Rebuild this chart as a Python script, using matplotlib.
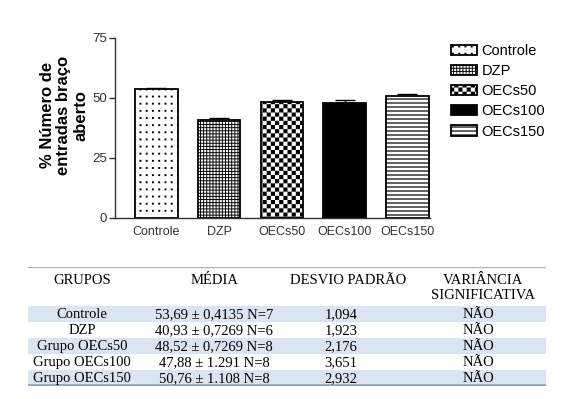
import matplotlib
matplotlib.use('Agg')
import matplotlib.pyplot as plt
import matplotlib.hatch as mhatch
from matplotlib.path import Path
from matplotlib.patches import Rectangle
import numpy as np

# ---------------- data ----------------
groups = ['Controle', 'DZP', 'OECs50', 'OECs100', 'OECs150']
means = [53.69, 40.93, 48.52, 47.88, 50.76]
sems = [0.4135, 0.7269, 0.7269, 1.291, 1.108]
yticks = [0, 25, 50, 75]
ylabel = '% Número de\nentradas braço\naberto'

table_headers = ['GRUPOS', 'MÉDIA', 'DESVIO PADRÃO', 'VARIÂNCIA\nSIGNIFICATIVA']
table_groups = ['Controle', 'DZP', 'Grupo OECs50', 'Grupo OECs100', 'Grupo OECs150']
table_media = ['53,69 ± 0,4135 N=7', '40,93 ± 0,7269 N=6', '48,52 ± 0,7269 N=8',
               '47,88 ± 1.291 N=8', '50,76 ± 1.108 N=8']
table_sd = ['1,094', '1,923', '2,176', '3,651', '2,932']
table_var = ['NÃO', 'NÃO', 'NÃO', 'NÃO', 'NÃO']

# ---------------- custom fill patterns (filled rectangles in unit hatch cell) ----------------
class RectPattern(mhatch.HatchPatternBase):
    char = ''
    def __init__(self, hatch, density):
        self.rects = self.make() if (self.char and self.char in hatch) else []
        self.num_vertices = 5 * len(self.rects)
    def make(self):
        return []
    def set_vertices_and_codes(self, vertices, codes):
        for i, (x, y, w, h) in enumerate(self.rects):
            vertices[5*i:5*i+5] = [(x, y), (x+w, y), (x+w, y+h), (x, y+h), (x, y)]
            codes[5*i] = Path.MOVETO
            codes[5*i+1:5*i+4] = Path.LINETO
            codes[5*i+4] = Path.CLOSEPOLY

class Stripes(RectPattern):
    char = '-'
    def make(self):
        n = 25
        return [(0, j/n + 0.004, 1, 0.012) for j in range(n)]

class SparseDots(RectPattern):
    char = '.'
    def make(self):
        nx, ny = 16, 14
        return [(i/nx + 0.02, j/ny + 0.025, 0.019, 0.019) for i in range(nx) for j in range(ny)]

class FineGrid(RectPattern):
    char = 'o'
    def make(self):
        n = 32
        s = 1.0 / n
        t = 0.0095
        r = []
        for j in range(n):
            r.append((0, j*s, 1, t))
            for i in range(n):
                r.append((i*s, j*s + t, t, s - t))
        return r

class Checker(RectPattern):
    char = 'O'
    def make(self):
        n = 12
        s = 1.0 / n
        h = s / 2
        r = []
        for i in range(n):
            for j in range(n):
                r.append((i*s, j*s, h, h))
                r.append((i*s + h, j*s + h, h, h))
        return r

mhatch._hatch_types[:] = [Stripes, SparseDots, FineGrid, Checker]

plt.rcParams['hatch.linewidth'] = 0.01
plt.rcParams['font.family'] = ['Liberation Sans', 'DejaVu Sans']

hatches = ['.', 'o', 'O', None, '-']
faces = ['white', 'white', 'white', 'black', 'white']

W, H = 579, 399
fig = plt.figure(figsize=(W/100, H/100), dpi=100)

# ---------------- bar chart ----------------
ax = fig.add_axes([115/W, 1 - 218/H, 315/W, 180/H])
x = np.arange(len(groups))
ax.errorbar(x, means, yerr=[np.zeros(len(sems)), sems], fmt='none', ecolor='black',
            elinewidth=1.0, capsize=7, capthick=1.0, zorder=1)
bars = []
for i in range(len(groups)):
    b = ax.bar(x[i], means[i], width=0.68, color=faces[i], edgecolor='black',
               linewidth=1.3, hatch=hatches[i], label=groups[i], zorder=2)
    bars.append(b[0])

ax.set_xlim(-0.66, 4.36)
ax.set_ylim(0, 75)
ax.set_yticks(yticks)
ax.set_yticklabels([str(v) for v in yticks], fontsize=9.5, color='#333333')
ax.set_xticks(x)
ax.set_xticklabels(groups, fontsize=9, color='#333333')
ax.tick_params(axis='x', length=0, pad=6)
ax.tick_params(axis='y', direction='out', length=4, width=1, color='#333333', pad=2)
for s in ['top', 'right']:
    ax.spines[s].set_visible(False)
for s in ['left', 'bottom']:
    ax.spines[s].set_color('#333333')
    ax.spines[s].set_linewidth(1.0)
ax.set_ylabel(ylabel, fontsize=12, fontweight='bold', linespacing=1.15, color='black')
ax.yaxis.label.set_multialignment('center')
ax.yaxis.set_label_coords(-0.085, 0.57)

fig.legend(handles=bars, labels=groups, loc='upper left',
           bbox_to_anchor=(451/W, 1 - 44/H), frameon=False, fontsize=10.5,
           handlelength=1.75, handleheight=0.7, labelspacing=0.42,
           handletextpad=0.35, borderpad=0, borderaxespad=0)

# ---------------- table ----------------
tx0, tx1, ty0, ty1 = 28, 546, 267, 386
tax = fig.add_axes([tx0/W, 1 - ty1/H, (tx1 - tx0)/W, (ty1 - ty0)/H])
hdr = 2.4
nrows = len(table_groups)
tax.set_xlim(tx0, tx1)
tax.set_ylim(hdr + nrows, 0)
tax.axis('off')

blue = '#dbe5f1'
for r in range(nrows):
    if r % 2 == 0:
        tax.add_patch(Rectangle((tx0, hdr + r), tx1 - tx0, 1, facecolor=blue,
                                edgecolor='none', zorder=0))
tax.axhline(0.03, color='#9fb3d3', lw=1.0, zorder=3)
tax.axhline(hdr + nrows - 0.06, color='#8fa6cc', lw=2.0, zorder=3)

serif = ['Liberation Serif', 'DejaVu Serif']
hdr_centers = [82, 215, 348, 483]
data_centers = [82, 214, 341, 478]
for c, t in zip(hdr_centers, table_headers):
    tax.text(c, 0.45, t, ha='center', va='top', fontsize=10.5, family=serif,
             linespacing=1.15, color='black')
columns = [table_groups, table_media, table_sd, table_var]
for c, col in zip(data_centers, columns):
    for r, t in enumerate(col):
        tax.text(c, hdr + r + 0.55, t, ha='center', va='center', fontsize=10.5,
                 family=serif, color='black')

fig.savefig('out.png', dpi=100)
